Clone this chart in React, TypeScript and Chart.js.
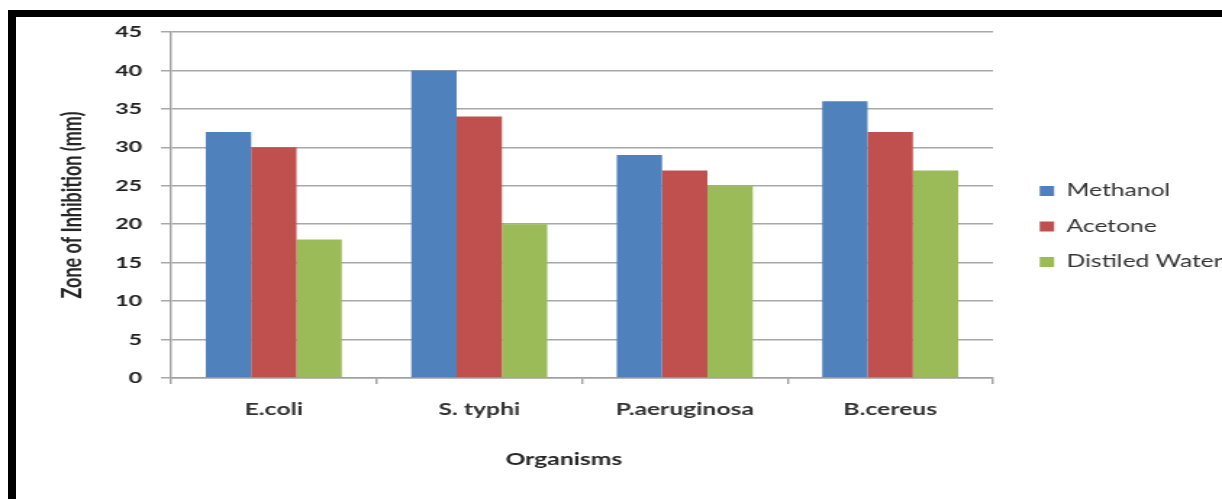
import React, { useEffect, useRef } from 'react';
import { Chart, registerables } from 'chart.js';

Chart.register(...registerables);

// ---- data ----
const categories = ['E.coli', 'S. typhi', 'P.aeruginosa', 'B.cereus'];
const seriesNames = ['Methanol', 'Acetone', 'Distiled Water'];
const methanol = [32, 40, 29, 36];
const acetone = [30, 34, 27, 32];
const distiledWater = [18, 20, 25, 27];
const yMin = 0;
const yMax = 45;
const yStep = 5;
const xTitle = 'Organisms';
const yTitle = 'Zone of Inhibition (mm)';

const colors = ['#4F81BD', '#C0504D', '#9BBB59'];

// the picture is horizontally stretched; draw narrower and stretch
const VIEW_W = 1222;
const VIEW_H = 499;
const STRETCH = 1.45;
const CW = Math.round(VIEW_W / STRETCH);

const FONT = 'Lato, "Open Sans", sans-serif';

const placeBoxes = {
  id: 'placeBoxes',
  afterLayout(chart: any) {
    const lg = chart.legend;
    if (lg) {
      lg.left = 698.7;
      lg.right = CW + 200;
      lg.width = lg.right - lg.left;
      lg.top = 126.5;
      lg.bottom = 326.5;
      lg.height = 200;
    }
    const tb = chart.titleBlock;
    if (tb) {
      const c = 564 / STRETCH;
      tb.left = c - 150;
      tb.right = c + 150;
      tb.width = 300;
    }
  },
};

export default function App() {
  const ref = useRef<HTMLCanvasElement | null>(null);

  useEffect(() => {
    if (!ref.current) return;
    const chart = new Chart(ref.current, {
      type: 'bar',
      data: {
        labels: categories,
        datasets: [
          { label: seriesNames[0], data: methanol, backgroundColor: colors[0] },
          { label: seriesNames[1], data: acetone, backgroundColor: colors[1] },
          { label: seriesNames[2], data: distiledWater, backgroundColor: colors[2] },
        ],
      },
      options: {
        responsive: false,
        animation: false,
        devicePixelRatio: 1,
        layout: { padding: { left: 0, top: 32, right: CW - 685, bottom: 23.8 } },
        datasets: {
          bar: { categoryPercentage: 0.662, barPercentage: 1.0 },
        },
        plugins: {
          legend: {
            position: 'chartArea',
            align: 'center',
            labels: {
              boxWidth: 10,
              boxHeight: 10,
              padding: 18.5,
              color: '#333333',
              font: { family: FONT, size: 17 },
            },
          },
          title: {
            display: true,
            position: 'bottom',
            text: xTitle,
            color: '#262626',
            font: { family: FONT, size: 17, weight: 'bold' },
            padding: { top: 15.4, bottom: 5 },
          },
          tooltip: { enabled: false },
        },
        scales: {
          x: {
            offset: true,
            grid: {
              display: true,
              drawOnChartArea: false,
              drawTicks: true,
              tickLength: 6,
              color: '#a0a0a0',
              lineWidth: 1.4,
              offset: true,
            },
            border: { display: true, color: '#a0a0a0', width: 1.5 },
            ticks: {
              color: '#333333',
              padding: 15,
              font: { family: FONT, size: 17, weight: 'bold' },
              maxRotation: 0,
            },
          },
          y: {
            min: yMin,
            max: yMax,
            ticks: {
              stepSize: yStep,
              color: '#222222',
              padding: 13,
              font: { family: FONT, size: 16, weight: 'bold' },
            },
            grid: {
              color: '#a8a8a8',
              lineWidth: 1.5,
              tickLength: 7,
            },
            border: { display: true, color: '#a0a0a0', width: 1.4 },
            title: {
              display: true,
              text: yTitle,
              color: '#262626',
              font: { family: FONT, size: 18, weight: 'bold' },
              padding: { top: 39, bottom: 0 },
            },
            afterFit: (scale: any) => {
              scale.width = 118;
            },
          },
        },
      },
      plugins: [placeBoxes],
    });
    return () => chart.destroy();
  }, []);

  return (
    <div
      style={{
        position: 'fixed',
        left: 0,
        top: 0,
        width: VIEW_W,
        height: VIEW_H,
        overflow: 'hidden',
        background: '#ffffff',
      }}
    >
      <div
        style={{
          position: 'absolute',
          left: 8,
          top: 10,
          width: VIEW_W + 50,
          height: VIEW_H + 50,
          borderTop: '7px solid #000',
          borderLeft: '8.5px solid #000',
        }}
      />
      <div
        style={{
          position: 'absolute',
          left: 0,
          top: 0,
          width: CW,
          height: VIEW_H,
          transform: `scaleX(${VIEW_W / CW})`,
          transformOrigin: '0 0',
        }}
      >
        <canvas ref={ref} width={CW} height={VIEW_H} style={{ display: 'block' }} />
      </div>
    </div>
  );
}
